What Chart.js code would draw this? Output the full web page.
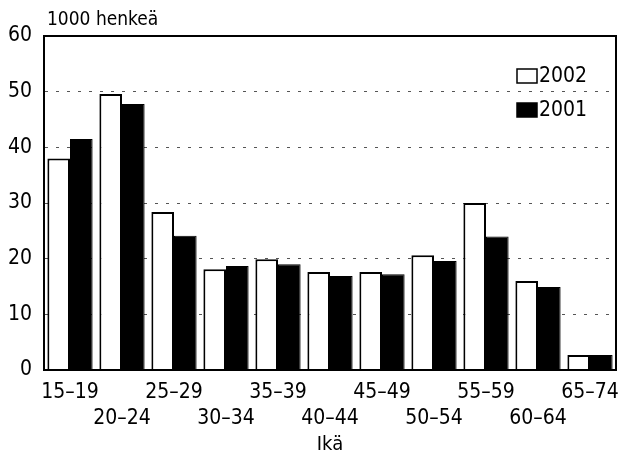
<!DOCTYPE html>
<html>
<head>
<meta charset="utf-8">
<script src="https://cdn.jsdelivr.net/npm/chart.js@4/dist/chart.umd.min.js"></script>
<style>
  html, body { margin: 0; padding: 0; background: #fff; }
  #wrap { width: 635px; height: 459px; position: relative; }
</style>
</head>
<body>
<div id="wrap"><canvas id="ageChart"></canvas></div>
<script>
// Age groups and values (1000 persons)
const ageGroups = ['15–19', '20–24', '25–29', '30–34', '35–39', '40–44', '45–49', '50–54', '55–59', '60–64', '65–74'];
const values2002 = [38, 49.6, 28.4, 18.1, 19.9, 17.6, 17.6, 20.6, 30, 16, 2.7];
const values2001 = [41.5, 47.8, 24.1, 18.7, 19, 16.9, 17.2, 19.6, 24, 14.9, 2.7];
const yTicks = [0, 10, 20, 30, 40, 50, 60];

const FONT = "'Liberation Sans Narrow', 'DejaVu Sans Condensed', 'Liberation Sans', sans-serif";

// frame, unit label and legend inside the plot
const extras = {
    id: 'extras',
    afterDraw(chart) {
        const { ctx, chartArea: a } = chart;
        ctx.save();
        ctx.strokeStyle = '#000';
        ctx.lineWidth = 2;
        ctx.strokeRect(a.left, a.top, a.right - a.left, a.bottom - a.top);

        ctx.fillStyle = '#000';
        ctx.font = '19px ' + FONT;
        ctx.textBaseline = 'middle';
        ctx.textAlign = 'left';
        ctx.fillText('1000 henkeä', a.left + 3, 20);

        const items = [
            { text: '2002', fill: '#fff' },
            { text: '2001', fill: '#000' }
        ];
        ctx.font = '21px ' + FONT;
        items.forEach((it, i) => {
            const y = 76 + i * 34;
            ctx.fillStyle = it.fill;
            ctx.fillRect(517, y - 7, 20, 14);
            ctx.lineWidth = 1.5;
            ctx.strokeRect(517, y - 7, 20, 14);
            ctx.fillStyle = '#000';
            ctx.fillText(it.text, 539, y + 1);
        });
        ctx.restore();
    }
};

const ctx = document.getElementById('ageChart').getContext('2d');
const ageChart = new Chart(ctx, {
    type: 'bar',
    data: {
        labels: ageGroups.map((l, i) => i % 2 === 0 ? [l, ''] : ['', l]),
        datasets: [{
            label: '2002',
            data: values2002,
            backgroundColor: '#fff',
            borderColor: '#000',
            borderWidth: 2
        }, {
            label: '2001',
            data: values2001,
            backgroundColor: '#000',
            borderColor: '#000',
            borderWidth: 1
        }]
    },
    options: {
        responsive: true,
        maintainAspectRatio: false,
        animation: false,
        layout: { padding: { top: 36, right: 19, left: 0, bottom: 2 } },
        datasets: {
            bar: { categoryPercentage: 0.87, barPercentage: 1.0 }
        },
        plugins: {
            legend: { display: false },
            tooltip: { enabled: false }
        },
        scales: {
            x: {
                grid: { display: false, drawTicks: false },
                border: { display: true, color: '#000', width: 2 },
                ticks: {
                    color: '#000',
                    font: { family: FONT, size: 21, lineHeight: 1.25 },
                    padding: 9,
                    maxRotation: 0,
                    autoSkip: false
                },
                title: {
                    display: true,
                    text: 'Ikä',
                    color: '#000',
                    font: { family: FONT, size: 20 },
                    padding: { top: 6, bottom: 0 }
                },
                afterFit(scale) { scale.height = 87; }
            },
            y: {
                min: 0,
                max: 60,
                afterBuildTicks(scale) { scale.ticks = yTicks.map(v => ({ value: v })); },
                grid: {
                    drawTicks: false,
                    color: (c) => (c.tick.value === 0 || c.tick.value === 60) ? 'rgba(0,0,0,0)' : '#555',
                    lineWidth: 1
                },
                border: { display: true, color: '#000', width: 2, dash: [3, 8] },
                ticks: {
                    color: '#000',
                    font: { family: FONT, size: 21 },
                    padding: 12
                },
                afterFit(scale) { scale.width = 44; }
            }
        }
    },
    plugins: [extras]
});
</script>
</body>
</html>
